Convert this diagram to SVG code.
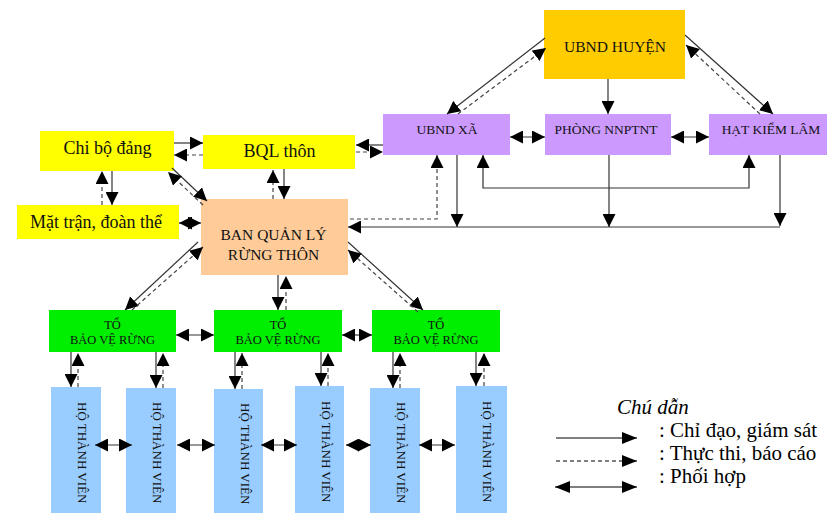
<svg xmlns="http://www.w3.org/2000/svg" width="827" height="514" viewBox="0 0 827 514">
  <defs>
    <marker id="ah" markerUnits="userSpaceOnUse" markerWidth="13" markerHeight="13" refX="13" refY="6.5" orient="auto-start-reverse">
      <path d="M0,0 L13,6.5 L0,13 z" fill="#000"/>
    </marker>
    <marker id="ahL" markerUnits="userSpaceOnUse" markerWidth="15" markerHeight="12" refX="15" refY="6" orient="auto-start-reverse">
      <path d="M0,0 L15,6 L0,12 z" fill="#000"/>
    </marker>
  </defs>
  <style>
    .box { stroke: none; }
    .gold { fill: #FFCC00; }
    .purple { fill: #CC99FF; }
    .yellow { fill: #FFFF00; }
    .peach { fill: #FFCC99; }
    .green { fill: #00EE00; }
    .blue { fill: #99CCFF; }
    text { font-family: "Liberation Serif", "Times New Roman", serif; fill: #111; }
    .t-big { font-size: 18px; text-anchor: middle; }
    .t-caps { font-size: 13.5px; text-anchor: middle; }
    .t-head { font-size: 15.5px; text-anchor: middle; }
    .t-to { font-size: 12.5px; text-anchor: middle; }
    .t-ho { font-size: 13px; }
    .t-leg { font-size: 21px; fill: #000; }
    .solid { fill: none; stroke: #333; stroke-width: 1.2; marker-end: url(#ah); }
    .dash { fill: none; stroke: #444; stroke-width: 1.2; stroke-dasharray: 4 3; marker-end: url(#ah); }
    .both { fill: none; stroke: #333; stroke-width: 1.2; marker-start: url(#ah); marker-end: url(#ah); }
    .lsolid { fill: none; stroke: #000; stroke-width: 1.2; marker-end: url(#ahL); }
    .ldash { fill: none; stroke: #000; stroke-width: 1.2; stroke-dasharray: 4 3; marker-end: url(#ahL); }
    .lboth { fill: none; stroke: #000; stroke-width: 1.2; marker-start: url(#ahL); marker-end: url(#ahL); }
  </style>

  <!-- district level -->
  <g id="ubnd-huyen">
    <rect class="box gold" x="544" y="10" width="141" height="69"/>
    <text class="t-head" x="615" y="52">UBND HUYỆN</text>
  </g>
  <g id="ubnd-xa">
    <rect class="box purple" x="383" y="114" width="127" height="41"/>
    <text class="t-caps" x="447" y="134">UBND XÃ</text>
  </g>
  <g id="phong-nnptnt">
    <rect class="box purple" x="545" y="114" width="126" height="41"/>
    <text class="t-caps" x="606" y="134">PHÒNG NNPTNT</text>
  </g>
  <g id="hat-kiem-lam">
    <rect class="box purple" x="709" y="114" width="118" height="41"/>
    <text class="t-caps" x="771" y="134">HẠT KIỂM LÂM</text>
  </g>

  <!-- village level -->
  <g id="chi-bo-dang">
    <rect class="box yellow" x="40" y="131" width="134" height="40"/>
    <text class="t-big" x="107.5" y="153.5">Chi bộ đảng</text>
  </g>
  <g id="bql-thon">
    <rect class="box yellow" x="203" y="135" width="152" height="34"/>
    <text class="t-big" x="279.5" y="156.5">BQL thôn</text>
  </g>
  <g id="mat-tran">
    <rect class="box yellow" x="17" y="205" width="162" height="34"/>
    <text class="t-big" x="96" y="227.5">Mặt trận, đoàn thể</text>
  </g>
  <g id="ban-quan-ly">
    <rect class="box peach" x="201" y="199" width="147" height="76"/>
    <text class="t-head" x="273.5" y="240">BAN QUẢN LÝ</text>
    <text class="t-head" x="273.5" y="259.5">RỪNG THÔN</text>
  </g>

  <!-- forest protection teams -->
  <g id="to-1">
    <rect class="box green" x="49" y="310" width="127" height="42"/>
    <text class="t-to" x="112.5" y="328.5">TỔ</text>
    <text class="t-to" x="112.5" y="343.5">BẢO VỆ RỪNG</text>
  </g>
  <g id="to-2">
    <rect class="box green" x="214" y="310" width="128" height="42"/>
    <text class="t-to" x="278" y="328.5">TỔ</text>
    <text class="t-to" x="278" y="343.5">BẢO VỆ RỪNG</text>
  </g>
  <g id="to-3">
    <rect class="box green" x="372" y="310" width="128" height="42"/>
    <text class="t-to" x="436" y="328.5">TỔ</text>
    <text class="t-to" x="436" y="343.5">BẢO VỆ RỪNG</text>
  </g>

  <!-- member households -->
  <g id="ho-1">
    <rect class="box blue" x="51" y="387" width="50" height="126"/>
    <text class="t-ho" transform="translate(78,402) rotate(90)">HỘ THÀNH VIÊN</text>
  </g>
  <g id="ho-2">
    <rect class="box blue" x="126" y="388" width="50" height="125"/>
    <text class="t-ho" transform="translate(153,402) rotate(90)">HỘ THÀNH VIÊN</text>
  </g>
  <g id="ho-3">
    <rect class="box blue" x="214" y="389" width="49" height="124"/>
    <text class="t-ho" transform="translate(241,403) rotate(90)">HỘ THÀNH VIÊN</text>
  </g>
  <g id="ho-4">
    <rect class="box blue" x="295" y="386" width="49" height="127"/>
    <text class="t-ho" transform="translate(322,401) rotate(90)">HỘ THÀNH VIÊN</text>
  </g>
  <g id="ho-5">
    <rect class="box blue" x="370" y="388" width="50" height="125"/>
    <text class="t-ho" transform="translate(397,402) rotate(90)">HỘ THÀNH VIÊN</text>
  </g>
  <g id="ho-6">
    <rect class="box blue" x="456" y="386" width="51" height="127"/>
    <text class="t-ho" transform="translate(483,401) rotate(90)">HỘ THÀNH VIÊN</text>
  </g>

  <!-- connectors -->
  <g id="connectors">
    <!-- UBND huyện to the three district offices -->
    <path class="solid" d="M545,38 L447,114"/>
    <path class="dash" d="M458,114 L546,48"/>
    <path class="solid" d="M608,79 V114"/>
    <path class="solid" d="M685,35 L773,114"/>
    <path class="dash" d="M760,114 L686,45"/>

    <!-- coordination between district offices -->
    <path class="both" d="M510,137 H545"/>
    <path class="both" d="M671,137 H709"/>
    <path class="both" d="M483,155 V188 H749 V155"/>

    <!-- district offices down to the village board -->
    <path class="solid" d="M457,155 V227"/>
    <path class="solid" d="M609,155 V227"/>
    <path class="solid" d="M780,155 V226"/>
    <path class="solid" d="M780,227 H348"/>
    <path class="dash" d="M350,219 H437 V155"/>

    <!-- UBND xã and BQL thôn -->
    <path class="solid" d="M383,145 H356"/>
    <path class="dash" d="M356,152 H383"/>

    <!-- Chi bộ and BQL thôn -->
    <path class="solid" d="M174,143 H203"/>
    <path class="dash" d="M203,155 H174"/>

    <!-- Chi bộ and Mặt trận -->
    <path class="solid" d="M112,171 V205"/>
    <path class="dash" d="M102,205 V171"/>

    <!-- Mặt trận and Ban quản lý -->
    <path class="both" d="M179,223 H201"/>

    <!-- Chi bộ and Ban quản lý -->
    <path class="solid" d="M172,168 L207,201"/>
    <path class="dash" d="M203,205 L168,172"/>

    <!-- BQL thôn and Ban quản lý -->
    <path class="solid" d="M284,169 V199"/>
    <path class="dash" d="M273,199 V170"/>

    <!-- Ban quản lý to the teams -->
    <path class="solid" d="M198,242 L125,310"/>
    <path class="dash" d="M132,310 L203,247"/>
    <path class="solid" d="M278,275 V310"/>
    <path class="dash" d="M286,310 V276"/>
    <path class="solid" d="M348,242 L423,310"/>
    <path class="dash" d="M418,312 L348,250"/>

    <!-- coordination between teams -->
    <path class="both" d="M176,335 H214"/>
    <path class="both" d="M342,335 H372"/>

    <!-- teams to households -->
    <path class="solid" d="M71,352 V387"/>
    <path class="dash" d="M78,387 V353"/>
    <path class="solid" d="M156,352 V388"/>
    <path class="dash" d="M163,388 V353"/>
    <path class="solid" d="M235,352 V389"/>
    <path class="dash" d="M242,389 V353"/>
    <path class="solid" d="M321,352 V386"/>
    <path class="dash" d="M328,386 V353"/>
    <path class="solid" d="M393,352 V388"/>
    <path class="dash" d="M400,388 V353"/>
    <path class="solid" d="M476,352 V386"/>
    <path class="dash" d="M484,386 V353"/>

    <!-- coordination between households -->
    <path class="both" d="M95,445 H132"/>
    <path class="both" d="M177,445 H215"/>
    <path class="both" d="M261,445 H297"/>
    <path class="both" d="M346,445 H371"/>
    <path class="both" d="M419,445 H455"/>
  </g>

  <!-- legend -->
  <g id="legend">
    <text class="t-leg" x="617" y="414" font-style="italic">Chú dẫn</text>
    <path class="lsolid" d="M556,438 H637"/>
    <text class="t-leg" x="659" y="437">: Chỉ đạo, giám sát</text>
    <path class="ldash" d="M556,461 H637"/>
    <text class="t-leg" x="659" y="460">: Thực thi, báo cáo</text>
    <path class="lboth" d="M555,487 H637"/>
    <text class="t-leg" x="659" y="483">: Phối hợp</text>
  </g>
</svg>
